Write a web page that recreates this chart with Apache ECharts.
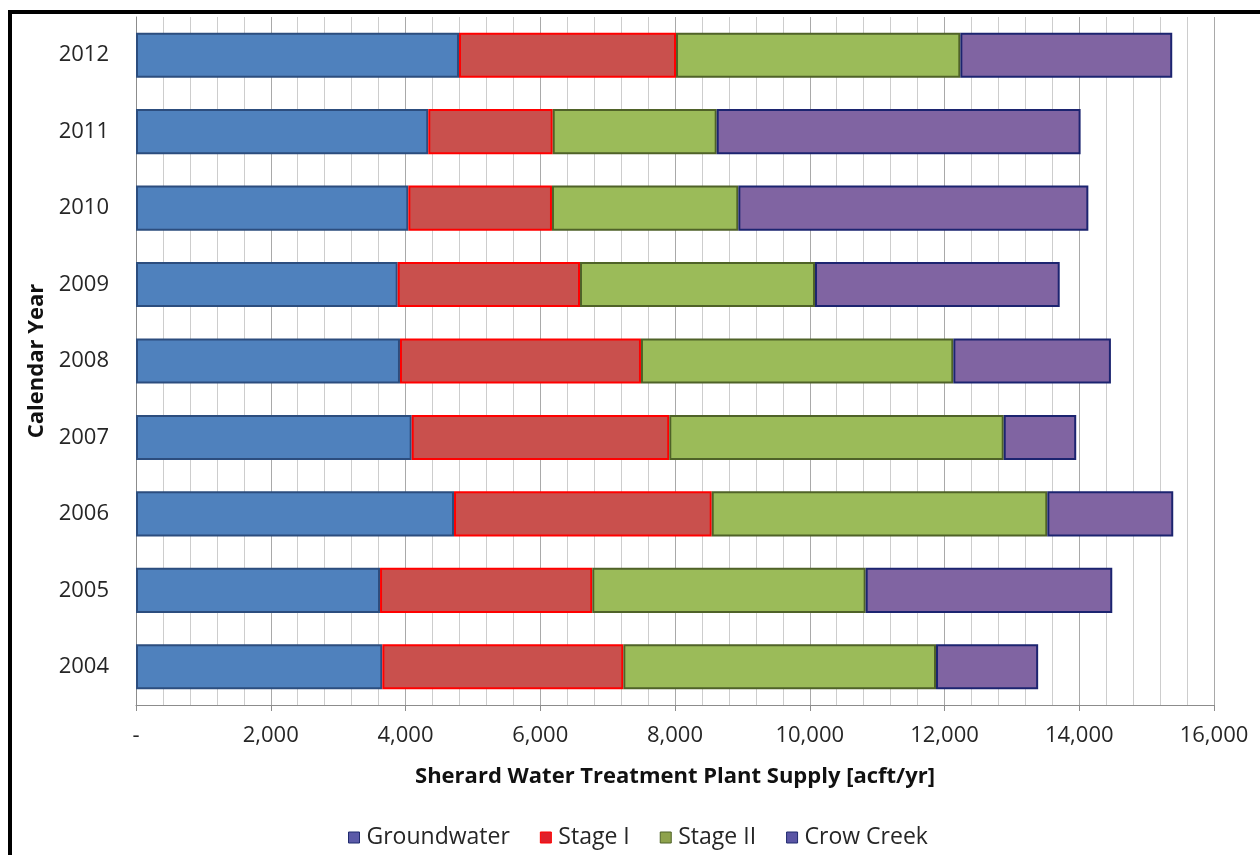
<!DOCTYPE html>
<html>
<head>
<meta charset="utf-8">
<script src="https://cdn.jsdelivr.net/npm/echarts@6/dist/echarts.min.js"></script>
<style>
html,body{margin:0;padding:0;background:#fff;}
#chart{width:1260px;height:855px;}
</style>
</head>
<body>
<div id="chart"></div>
<script>
const years = ['2004','2005','2006','2007','2008','2009','2010','2011','2012'];
const groundwater = [3656, 3622, 4720, 4092, 3918, 3884, 4042, 4338, 4794];
const stageI      = [3577, 3150, 3825, 3823, 3577, 2706, 2132, 1847, 3221];
const stageII     = [4641, 4058, 4981, 4964, 4636, 3488, 2766, 2434, 4220];
const crowCreek   = [1516, 3660, 1869, 1076, 2339, 3632, 5195, 5401, 3145];
const xTicks = { min: 0, max: 16000, step: 2000 };

const FONT = '"Open Sans", "Noto Sans", sans-serif';
const chart = echarts.init(document.getElementById('chart'), null, {renderer: 'canvas'});

function mk(name, data, fill, border) {
  return {
    name: name, type: 'bar', stack: 'total', data: data,
    barCategoryGap: '41%',
    itemStyle: { color: fill, borderColor: border, borderWidth: 2 },
    emphasis: { disabled: true }
  };
}

chart.setOption({
  backgroundColor: '#ffffff',
  animation: false,
  grid: { left: 136, right: 46, top: 17, bottom: 150, containLabel: false },
  graphic: [{
    type: 'rect', z: 100, silent: true,
    shape: { x: 10, y: 12, width: 1300, height: 900 },
    style: { fill: 'none', stroke: '#000', lineWidth: 4 }
  }],
  legend: {
    left: 343, top: 821,
    icon: 'rect', itemWidth: 11, itemHeight: 11, itemGap: 30,
    textStyle: { fontFamily: FONT, fontSize: 23, color: '#262626', padding: [0,0,0,2] },
    data: [
      { name: 'Groundwater', itemStyle: { color: '#5b5aa8', borderColor: '#1f2a6e', borderWidth: 1 } },
      { name: 'Stage I', itemStyle: { color: '#e0202a', borderColor: '#ff0000', borderWidth: 1 } },
      { name: 'Stage II', itemStyle: { color: '#8ea24c', borderColor: '#4f6228', borderWidth: 1 } },
      { name: 'Crow Creek', itemStyle: { color: '#5a55a5', borderColor: '#1f2a6e', borderWidth: 1 } }
    ]
  },
  xAxis: {
    type: 'value', min: xTicks.min, max: xTicks.max, interval: xTicks.step,
    name: 'Sherard Water Treatment Plant Supply [acft/yr]',
    nameLocation: 'middle', nameGap: 61,
    nameTextStyle: { fontFamily: FONT, fontSize: 22, fontWeight: 'bold', color: '#111' },
    axisLine: { show: true, lineStyle: { color: '#8c8c8c', width: 1 } },
    axisTick: { show: true, length: 6, lineStyle: { color: '#8c8c8c' } },
    minorTick: { show: false, splitNumber: 5 },
    axisLabel: {
      fontFamily: FONT, fontSize: 22, color: '#262626', margin: 20,
      formatter: function (v) { return v === 0 ? '-' : v.toLocaleString('en-US'); }
    },
    splitLine: { show: true, lineStyle: { color: '#a9a9a9', width: 1 } },
    minorSplitLine: { show: true, lineStyle: { color: '#cdcdcd', width: 1 } }
  },
  yAxis: {
    type: 'category', data: years,
    name: 'Calendar Year', nameLocation: 'middle', nameGap: 86, nameRotate: 90,
    nameTextStyle: { fontFamily: FONT, fontSize: 22, fontWeight: 'bold', color: '#111' },
    axisLine: { show: true, lineStyle: { color: '#8c8c8c', width: 1 } },
    axisTick: { show: false },
    axisLabel: { fontFamily: FONT, fontSize: 22, color: '#262626', margin: 27 },
    splitLine: { show: false }
  },
  series: [
    mk('Groundwater', groundwater, '#4f81bd', '#2c4d7e'),
    mk('Stage I', stageI, '#c9504d', '#ff0000'),
    mk('Stage II', stageII, '#9bbb59', '#4f6228'),
    mk('Crow Creek', crowCreek, '#8064a2', '#1c2470')
  ]
});
</script>
</body>
</html>
